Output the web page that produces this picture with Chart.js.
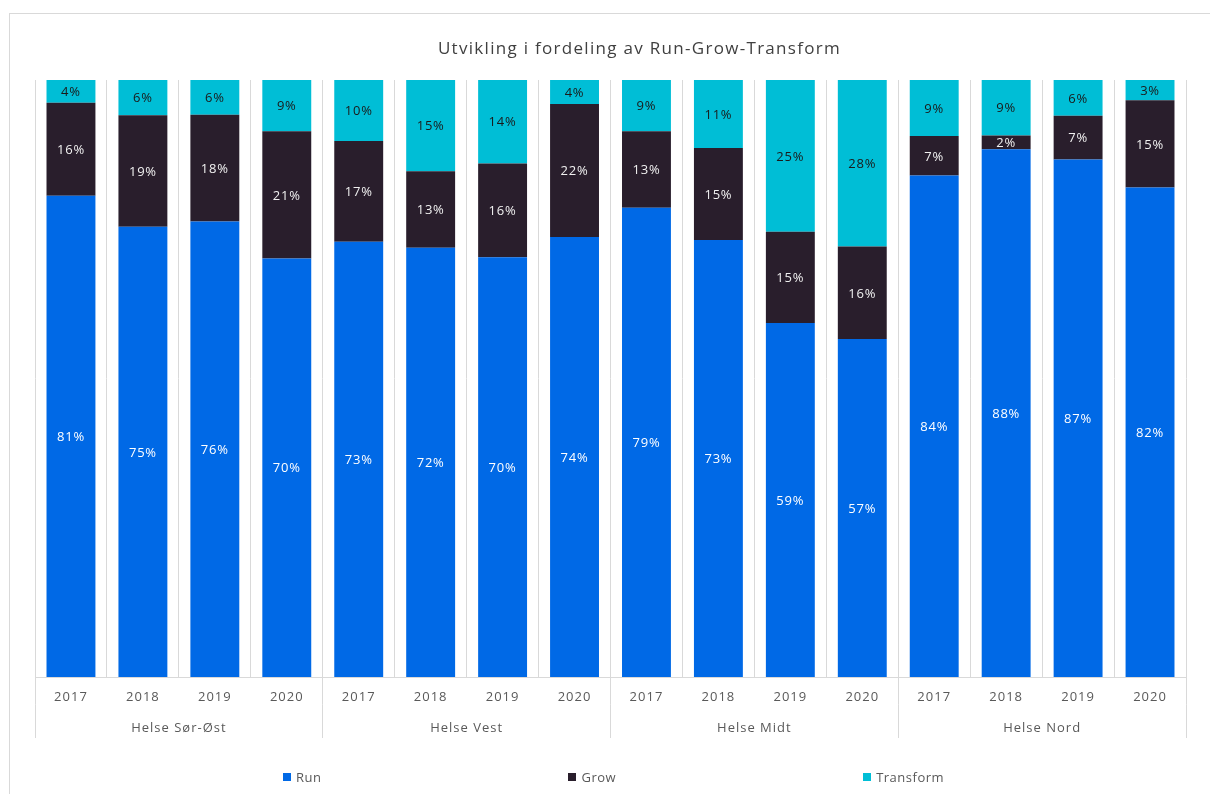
<!DOCTYPE html>
<html lang="no">
<head>
<meta charset="utf-8">
<title>Utvikling i fordeling av Run-Grow-Transform</title>
<script src="https://cdn.jsdelivr.net/npm/chart.js@4.4.1/dist/chart.umd.min.js"></script>
<style>
  html, body { margin: 0; padding: 0; background: #ffffff; overflow: hidden; }
  #wrap { position: relative; width: 1210px; height: 794px; overflow: hidden; }
  #frame { position: absolute; left: 9px; top: 13px; width: 1400px; height: 1000px;
           border: 1px solid #d9d9d9; box-sizing: border-box; }
  #chart { position: absolute; left: 0; top: 0; }
  #title { position: absolute; left: 0; top: 38px; width: 1279px; text-align: center;
           font: 17px "Open Sans", sans-serif; line-height: 20px; color: #404040; letter-spacing: 1.3px; }
  #legend { position: absolute; left: 283px; top: 769px; display: flex; gap: 247px;
            font: 13px "Open Sans", sans-serif; color: #595959; letter-spacing: 0.5px; line-height: 16px; }
  #legend .item { display: flex; align-items: center; }
  #legend .box { width: 8px; height: 8px; margin-right: 5px; }
</style>
</head>
<body>
<div id="wrap">
  <div id="frame"></div>
  <canvas id="chart" width="1210" height="794"></canvas>
  <div id="title">Utvikling i fordeling av Run-Grow-Transform</div>
  <div id="legend"></div>
</div>
<script>
// Years per bar and the health regions they are grouped under
const years = ['2017', '2018', '2019', '2020', '2017', '2018', '2019', '2020',
               '2017', '2018', '2019', '2020', '2017', '2018', '2019', '2020'];
const regions = ['Helse Sør-Øst', 'Helse Vest', 'Helse Midt', 'Helse Nord'];

// Share of budget (%) per bar
const runValues = [80.6, 75.4, 76.3, 70.1, 72.9, 71.9, 70.3, 73.7,
                   78.6, 73.2, 59.3, 56.6, 84.0, 88.4, 86.7, 82.0];
const growValues = [15.6, 18.7, 17.9, 21.3, 16.9, 12.8, 15.7, 22.3,
                    12.8, 15.4, 15.3, 15.5, 6.6, 2.3, 7.3, 14.6];
const transformValues = [3.8, 5.9, 5.8, 8.6, 10.2, 15.3, 14.0, 4.0,
                         8.6, 11.4, 25.4, 27.9, 9.4, 9.3, 6.0, 3.4];

const seriesNames = ['Run', 'Grow', 'Transform'];
const seriesColors = ['#0069e6', '#291e2c', '#00bed6'];
const labelColors = ['#ffffff', '#f0f0f0', '#1a1a1a'];
const GRID = '#d9d9d9';
const CLEAR = 'rgba(0,0,0,0)';
const FONT = '"Open Sans", sans-serif';
const YEARS_PER_REGION = 4;

// Percentage text centred in every bar segment
const valueLabels = {
  id: 'valueLabels',
  afterDatasetsDraw(chart) {
    const ctx = chart.ctx;
    ctx.save();
    ctx.letterSpacing = '0.8px';
    ctx.font = '13px ' + FONT;
    ctx.textAlign = 'center';
    ctx.textBaseline = 'middle';
    chart.data.datasets.forEach((ds, di) => {
      const meta = chart.getDatasetMeta(di);
      meta.data.forEach((bar, i) => {
        ctx.fillStyle = labelColors[di];
        ctx.fillText(Math.round(ds.data[i]) + '%', bar.x, (bar.y + bar.base) / 2 + 1);
      });
    });
    ctx.restore();
  }
};

// Slightly spaced axis lettering
const spacedText = {
  id: 'spacedText',
  beforeDraw(chart) { chart.ctx.letterSpacing = '1px'; }
};

const chart = new Chart(document.getElementById('chart'), {
  type: 'bar',
  data: {
    labels: years,
    datasets: [
      { label: seriesNames[0], data: runValues, backgroundColor: seriesColors[0] },
      { label: seriesNames[1], data: growValues, backgroundColor: seriesColors[1] },
      { label: seriesNames[2], data: transformValues, backgroundColor: seriesColors[2] }
    ]
  },
  options: {
    responsive: false,
    animation: false,
    devicePixelRatio: 1,
    layout: { padding: { left: 35, right: 24, top: 80, bottom: 56 } },
    datasets: { bar: { barPercentage: 0.68, categoryPercentage: 1, borderWidth: 0 } },
    plugins: {
      legend: { display: false },
      title: { display: false },
      tooltip: { enabled: false }
    },
    scales: {
      x: {
        stacked: true,
        grid: {
          offset: true, color: GRID, tickLength: 27.8,
          // only region boundaries continue below the axis line
          // (the closing right edge line has no tick index of its own)
          tickColor: (c) => (c.index === undefined || c.index % YEARS_PER_REGION === 0 ? GRID : CLEAR)
        },
        border: { display: true, color: GRID },
        ticks: { padding: -15.6, color: '#595959', font: { family: FONT, size: 13 },
                 maxRotation: 0, autoSkip: false },
        afterFit: (scale) => { scale.height = 27.8; }
      },
      x2: {
        type: 'category',
        position: 'bottom',
        labels: regions,
        offset: true,
        grid: { offset: true, drawOnChartArea: false, tickLength: 33.2, tickColor: GRID },
        border: { display: false },
        ticks: { padding: -17.8, color: '#595959', font: { family: FONT, size: 13 },
                 maxRotation: 0, autoSkip: false },
        afterFit: (scale) => { scale.height = 33.2; }
      },
      y: {
        stacked: true,
        min: 0,
        max: 100,
        display: false
      }
    }
  },
  plugins: [spacedText, valueLabels]
});

// Legend row under the chart
const legendEl = document.getElementById('legend');
seriesNames.forEach((name, i) => {
  const item = document.createElement('div');
  item.className = 'item';
  const box = document.createElement('span');
  box.className = 'box';
  box.style.background = seriesColors[i];
  const txt = document.createElement('span');
  txt.textContent = name;
  item.appendChild(box);
  item.appendChild(txt);
  legendEl.appendChild(item);
});
</script>
</body>
</html>
